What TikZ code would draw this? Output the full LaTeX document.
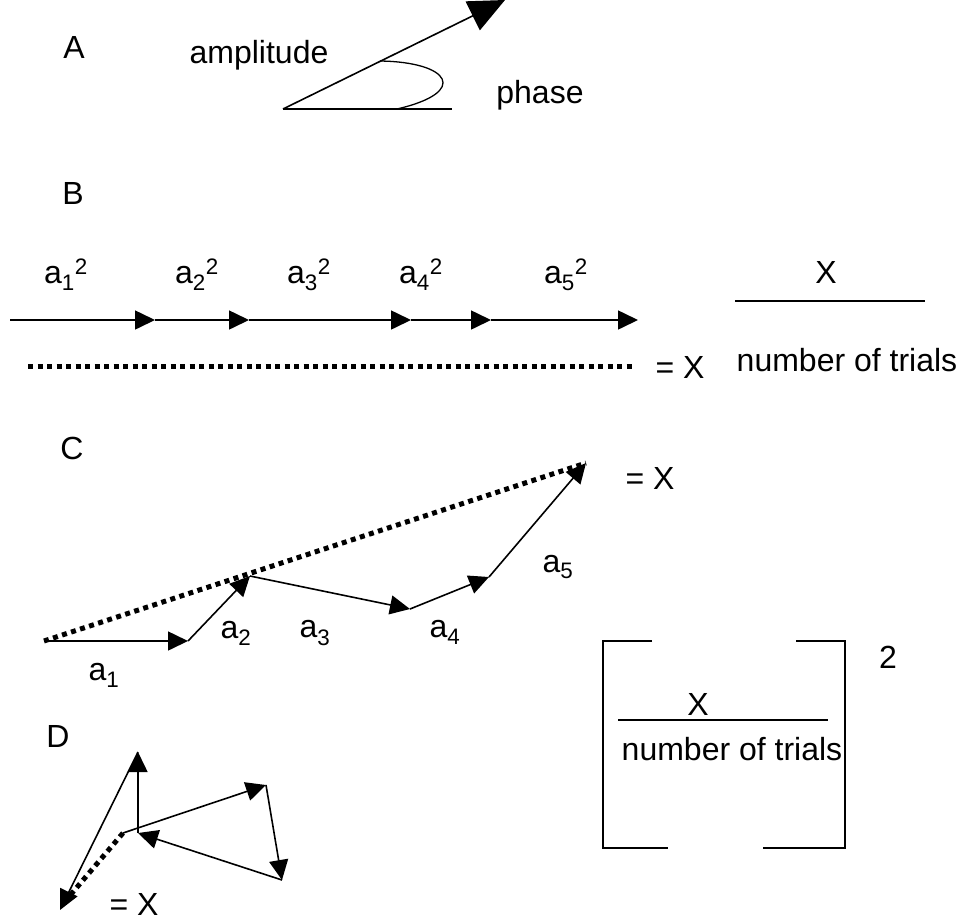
\documentclass[tikz,border=0pt]{standalone}
\usepackage{fontspec}
\setmainfont{Liberation Sans}
\usetikzlibrary{arrows.meta}

\tikzset{
  vec/.style={line width=1.6pt,-{Triangle[length=20pt,width=19pt]}},
  sumline/.style={line width=5pt,dash pattern=on 5pt off 4.5pt},
  lbl/.style={inner sep=0pt,font=\fontsize{32}{36}\selectfont},
}

\begin{document}
\begin{tikzpicture}[x=1pt,y=-1pt,line width=1.8pt]
  \useasboundingbox (0,0) rectangle (959,922);

  % A: amplitude and phase
  \node[lbl] (labA) at (74,47) {A};
  \coordinate (o) at (283,109);
  \coordinate (amptip) at (505,0);
  \coordinate (ref) at (452,109);
  \coordinate (phs) at (380,61);
  \coordinate (phe) at (397,109);
  \draw (o) -- (ref);
  \draw[vec,-{Triangle[length=36pt,width=32pt]}] (o) -- (amptip);
  \draw[line width=1.3pt] (phs) .. controls (450,62) and (470,92) .. (phe);
  \node[lbl] (amp) at (259,55) {amplitude};
  \node[lbl] (phase) at (540,95) {phase};

  % B: squares added
  \node[lbl] (labB) at (73,193) {B};
  \foreach \n/\x in {0/10,1/155,2/249,3/411,4/491,5/638}
    \coordinate (b\n) at (\x,320);
  \foreach \i/\j in {0/1,1/2,2/3,3/4,4/5}
    \draw[vec] (b\i) -- (b\j);
  \foreach \n/\x in {1/66,2/197,3/309,4/421,5/566}
    \node[lbl] (bl\n) at (\x,275) {a\textsubscript{\n}\textsuperscript{2}};
  \coordinate (bs) at (28,366);
  \coordinate (be) at (632,366);
  \draw[sumline] (bs) -- (be);
  \node[lbl] (bX) at (680,367) {= X};
  \node[lbl] (fX) at (826,272) {X};
  \draw (735,301) -- (925,301);
  \node[lbl] (fN) at (847,360) {number of trials};

  % C: amplitudes added
  \node[lbl] (labC) at (72,448) {C};
  \foreach \n/\p in {0/{44,641},1/{188,641},2/{250,576},3/{410,609},4/{489,577},5/{586,463}}
    \coordinate (c\n) at (\p);
  \draw[sumline] (c0) -- (c5);
  \foreach \i/\j in {0/1,1/2,2/3,3/4,4/5}
    \draw[vec] (c\i) -- (c\j);
  \node[lbl] (cl1) at (104,675) {a\textsubscript{1}};
  \node[lbl] (cl2) at (236,633) {a\textsubscript{2}};
  \node[lbl] (cl3) at (315,633) {a\textsubscript{3}};
  \node[lbl] (cl4) at (445,632) {a\textsubscript{4}};
  \node[lbl] (cl5) at (558,567) {a\textsubscript{5}};
  \node[lbl] (cX) at (650,478) {= X};

  % bracket, squared
  \draw (652,641) -- (603,641) -- (603,848) -- (668,848);
  \draw (796,641) -- (845,641) -- (845,848) -- (763,848);
  \node[lbl] (sq) at (888,657) {2};
  \node[lbl] (gX) at (698,704) {X};
  \draw (618,720) -- (828,720);
  \node[lbl] (gN) at (732,749) {number of trials};

  % D: random phases
  \node[lbl] (labD) at (58,736) {D};
  \foreach \n/\p in {0/{123,833},1/{266,785},2/{282,880},3/{138,833},4/{138,752},5/{60,910},6/{67,899}}
    \coordinate (d\n) at (\p);
  \draw[sumline] (d0) -- (d6);
  \foreach \i/\j in {0/1,1/2,2/3,3/4,4/5}
    \draw[vec] (d\i) -- (d\j);
  \node[lbl] (dX) at (134,904) {= X};
\end{tikzpicture}
\end{document}
